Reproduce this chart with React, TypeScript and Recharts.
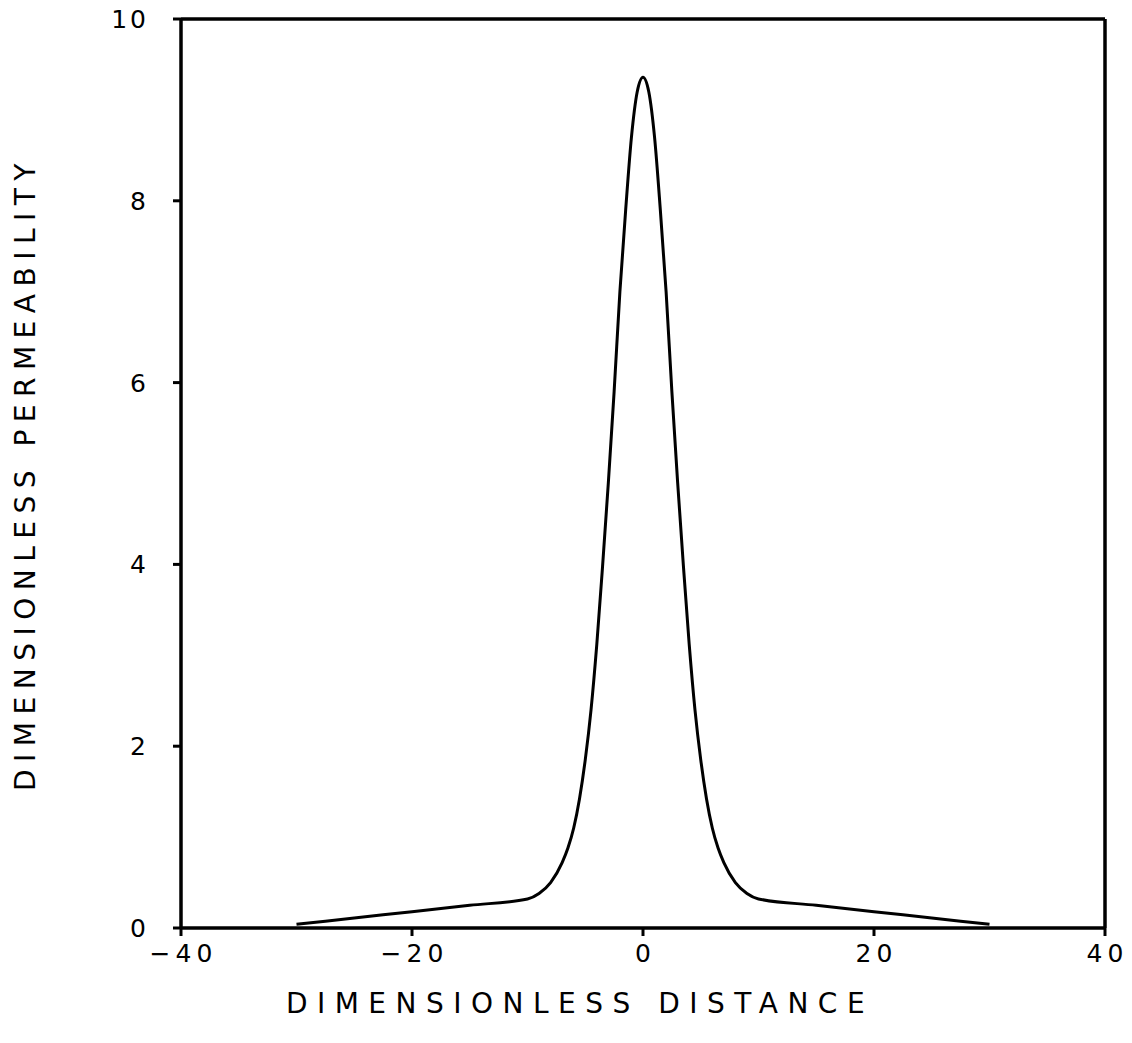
import React from 'react';
import { LineChart, Line, XAxis, YAxis, ReferenceLine } from 'recharts';

// Distance from the centre of the high-permeability zone (dimensionless)
const distance = [
  -30, -25, -20, -15, -10, -9, -8, -7, -6.5, -6, -5.5, -5, -4.5, -4, -3.5, -3, -2.5, -2, -1.5, -1, -0.5,
  0,
  0.5, 1, 1.5, 2, 2.5, 3, 3.5, 4, 4.5, 5, 5.5, 6, 6.5, 7, 8, 9, 10, 15, 20, 25, 30,
];

// Permeability profile (dimensionless) at each distance
const permeability = [
  0.04, 0.11, 0.18, 0.25, 0.32, 0.38, 0.5, 0.72, 0.88, 1.1, 1.42, 1.85, 2.4, 3.12, 3.98, 4.9, 5.9, 7.0, 7.9, 8.7, 9.2,
  9.36,
  9.2, 8.7, 7.9, 7.0, 5.9, 4.9, 3.98, 3.12, 2.4, 1.85, 1.42, 1.1, 0.88, 0.72, 0.5, 0.38, 0.32, 0.25, 0.18, 0.11, 0.04,
];

const xTicks = [-40, -20, 0, 20, 40];
const yTicks = [0, 2, 4, 6, 8, 10];

const data = distance.map((d, i) => ({ d, k: permeability[i] }));

const FONT = '"DejaVu Sans", "Liberation Sans", sans-serif';
const INK = '#000';

const fmt = (v: number) => (v < 0 ? '\u2212' + Math.abs(v) : String(v));

const XTick = (props: any) => {
  const { x, y, payload } = props;
  return (
    <text
      x={x + 2.5}
      y={y + 24}
      textAnchor="middle"
      fontFamily={FONT}
      fontSize={25}
      letterSpacing={5}
      fill={INK}
    >
      {fmt(payload.value)}
    </text>
  );
};

const YTick = (props: any) => {
  const { x, y, payload } = props;
  return (
    <text
      x={x - 22}
      y={y}
      dy={9}
      textAnchor="end"
      fontFamily={FONT}
      fontSize={25}
      letterSpacing={3}
      fill={INK}
    >
      {payload.value}
    </text>
  );
};

const XTitle = (props: any) => {
  const { viewBox } = props;
  const cx = viewBox.x + viewBox.width / 2 - 63;
  return (
    <text
      x={cx}
      y={1003}
      textAnchor="middle"
      dominantBaseline="central"
      fontFamily={FONT}
      fontSize={28}
      letterSpacing={9.5}
      fill={INK}
    >
      DIMENSIONLESS DISTANCE
    </text>
  );
};

const YTitle = (props: any) => {
  const { viewBox } = props;
  const cy = viewBox.y + viewBox.height / 2;
  return (
    <text
      x={25}
      y={cy}
      transform={`rotate(-90, 25, ${cy})`}
      textAnchor="middle"
      dominantBaseline="central"
      fontFamily={FONT}
      fontSize={28}
      letterSpacing={7.5}
      fill={INK}
    >
      DIMENSIONLESS PERMEABILITY
    </text>
  );
};

export default function App() {
  return (
    <div style={{ width: 1132, height: 1043, margin: -8, background: '#fff' }}>
      <LineChart
        width={1132}
        height={1043}
        data={data}
        margin={{ top: 19, right: 27, bottom: 0, left: 0 }}
      >
        <XAxis
          xAxisId="b"
          dataKey="d"
          type="number"
          domain={[-40, 40]}
          ticks={xTicks}
          height={115}
          tickSize={8}
          tickLine={{ stroke: INK, strokeWidth: 3 }}
          axisLine={{ stroke: INK, strokeWidth: 3.5 }}
          tick={<XTick />}
          label={<XTitle />}
          allowDataOverflow
        />
        <YAxis
          yAxisId="l"
          type="number"
          domain={[0, 10]}
          ticks={yTicks}
          width={181}
          tickSize={8}
          tickLine={{ stroke: INK, strokeWidth: 3 }}
          axisLine={{ stroke: INK, strokeWidth: 3.5 }}
          tick={<YTick />}
          label={<YTitle />}
          allowDataOverflow
        />
        {/* closing frame: top and right edges of the plot box */}
        <ReferenceLine xAxisId="b" yAxisId="l" y={10} stroke={INK} strokeWidth={3.5} />
        <ReferenceLine xAxisId="b" yAxisId="l" x={40} stroke={INK} strokeWidth={3.5} />
        <Line
          xAxisId="b"
          yAxisId="l"
          type="monotone"
          dataKey="k"
          stroke={INK}
          strokeWidth={3}
          dot={false}
          activeDot={false}
          isAnimationActive={false}
        />
      </LineChart>
    </div>
  );
}
